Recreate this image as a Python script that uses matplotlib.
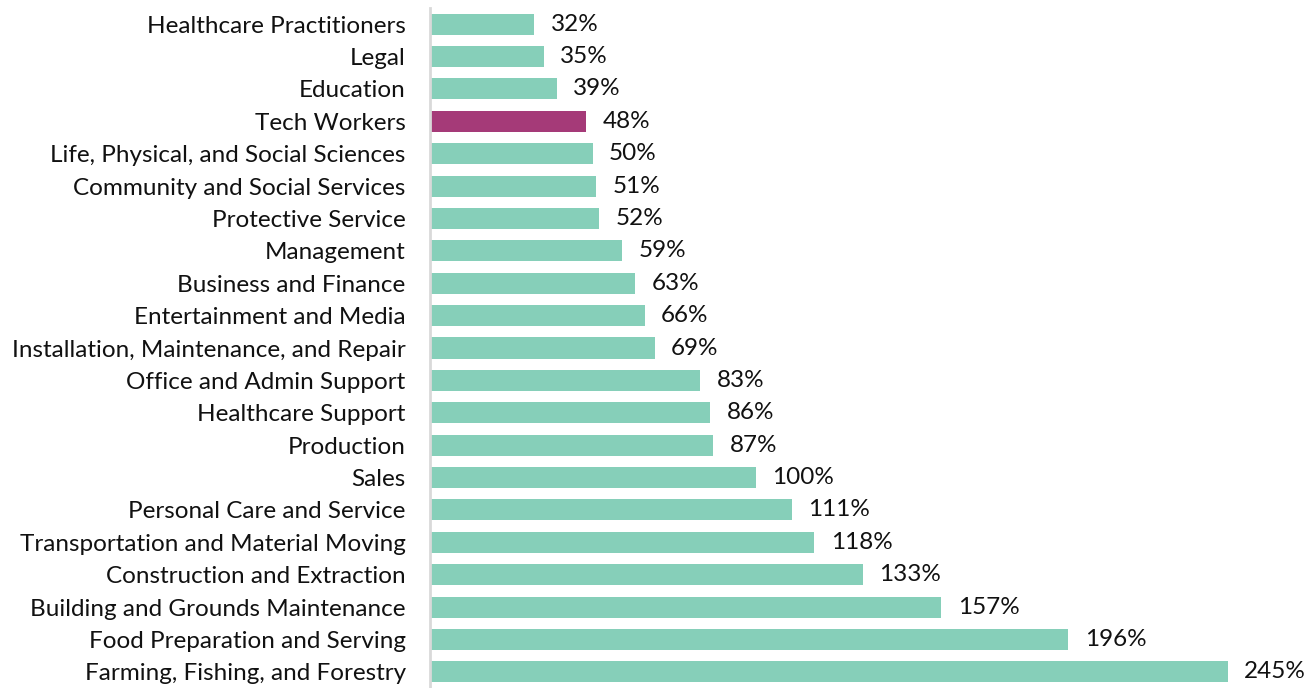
import matplotlib
matplotlib.use("Agg")
import matplotlib.pyplot as plt

categories = [
    "Healthcare Practitioners", "Legal", "Education", "Tech Workers",
    "Life, Physical, and Social Sciences", "Community and Social Services",
    "Protective Service", "Management", "Business and Finance",
    "Entertainment and Media", "Installation, Maintenance, and Repair",
    "Office and Admin Support", "Healthcare Support", "Production", "Sales",
    "Personal Care and Service", "Transportation and Material Moving",
    "Construction and Extraction", "Building and Grounds Maintenance",
    "Food Preparation and Serving", "Farming, Fishing, and Forestry",
]
values = [32, 35, 39, 48, 50, 51, 52, 59, 63, 66, 69, 83, 86, 87, 100,
          111, 118, 133, 157, 196, 245]
highlight = "Tech Workers"

base_color = "#86CFB9"
highlight_color = "#A53A78"

plt.rcParams["font.family"] = ["Lato", "DejaVu Sans"]

fig = plt.figure(figsize=(13.16, 6.88), dpi=100)
ax = fig.add_axes([430 / 1316, 0.0, 886 / 1316, 680 / 688])

colors = [highlight_color if c == highlight else base_color for c in categories]
ypos = list(range(len(categories)))
ax.barh(ypos, values, height=0.65, color=colors)

for y, v in zip(ypos, values):
    ax.text(v + 5, y, f"{v}%", va="center", ha="left", fontsize=17.5, color="#111111")

ax.set_xlim(0, 886 / 3.257)
ax.set_ylim(len(categories) - 0.5, -0.5)
ax.set_yticks(ypos)
ax.set_yticklabels(categories, fontsize=17.5, color="#111111")
ax.tick_params(axis="y", length=0, pad=17.5)
ax.set_xticks([])

for side in ["top", "right", "bottom"]:
    ax.spines[side].set_visible(False)
ax.spines["left"].set_color("#D9D9D9")
ax.spines["left"].set_linewidth(2)

fig.savefig("out.png", dpi=100)
